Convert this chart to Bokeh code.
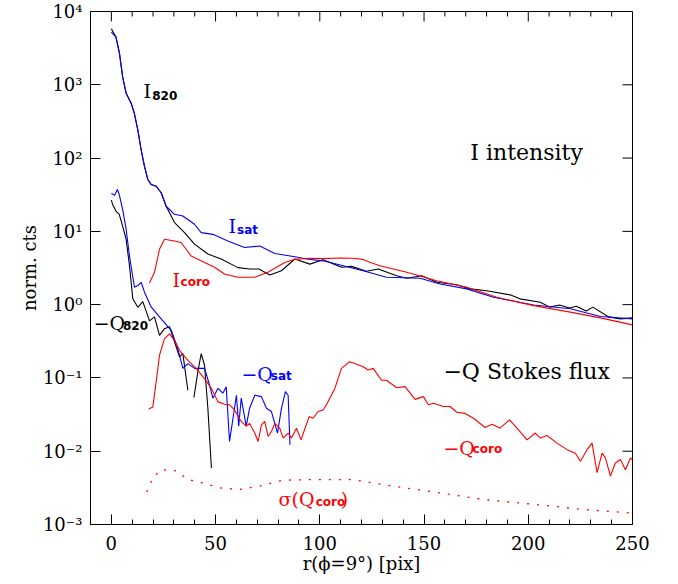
import math
from bokeh.plotting import figure
from bokeh.models import FixedTicker, CustomJSTickFormatter, Range1d
from bokeh.core.properties import value
from bokeh.embed import file_html
from bokeh.resources import INLINE

nan = float("nan")

# ---------------- data ----------------
x_I820 = [0, 2.2, 3.9, 5.4, 7.1, 9.5, 11, 12.7, 14.3, 15.9, 17.5, 19.1, 21.5, 23.9, 26.3,
          30.3, 35.1, 39.9, 46.3, 52.7, 60.7, 66.3, 70.8, 76, 81.6, 88, 95.2, 101.6, 110.4,
          115.2, 122.4, 128, 136.9, 141.7, 148.9, 156.1, 165.7, 172.1, 180.1, 191.3, 196,
          205.8, 210.3, 215, 219.8, 223, 227.8, 231, 238.6, 244.2, 250]
y_I820 = [5820, 4470, 2680, 1290, 765, 560, 410, 243, 129, 77, 51, 43.6, 41.3, 33.6, 22,
          13.2, 9.6, 6.7, 4.9, 4.2, 3.2, 3.06, 3.06, 2.54, 2.9, 4.2, 3.57, 4.1, 3.23,
          3.33, 2.85, 3.06, 2.48, 2.29, 2.48, 2.02, 1.87, 1.64, 1.55, 1.36, 1.2,
          1.08, 0.925, 0.99, 0.90, 0.95, 0.82, 0.925, 0.68, 0.64, 0.66]

x_Isat = [0, 2.2, 3.9, 5.4, 7.1, 9.5, 11, 12.7, 14.3, 15.9, 17.5, 19.1, 21.5, 23.9, 26.3,
          30.3, 34.3, 39.9, 43.1, 48.7, 55.9, 63.9, 71.2, 78.4, 88, 93.6, 101.6, 120.8,
          132, 148.1, 157.7, 170.5, 183.3, 202.6, 220.2, 234.6, 250]
y_Isat = [5250, 4470, 2680, 1290, 765, 560, 410, 243, 129, 77, 51, 43.6, 41.3, 33.6, 22,
          17.1, 16.2, 12.5, 9.6, 9.1, 7.4, 6.03, 6.3, 5.0, 4.5, 4.2, 3.96, 2.9,
          2.36, 2.29, 1.91, 1.64, 1.26, 0.99, 0.88, 0.69, 0.64]

x_Icoro = [18.3, 20.7, 23.1, 25.5, 30.3, 33.5, 38.3, 44.7, 49.5, 54.3, 60.7, 68.8, 75.1,
           83.2, 88, 95, 101, 110, 116, 120.5, 124, 128.8, 141.7, 156.1, 170.5, 184.9, 202.6,
           220.2, 234.6, 250]
y_Icoro = [1.98, 2.76, 5.7, 7.8, 7.4, 7.05, 4.6, 3.77, 3.23, 2.62, 2.36, 2.36, 2.76,
           3.77, 4.15, 4.3, 4.25, 4.33, 4.3, 4.15, 3.8, 3.39, 2.76, 2.12, 1.73, 1.26, 0.97,
           0.79, 0.66, 0.53]

x_Q820 = [0, 0.6, 2.2, 3.8, 5.4, 7.1, 8.7, 10.3, 12.7, 15.1, 18.3, 20.7, 23.1, 25.5, 27.9,
          31.1, 32.7, 34.3, 36.7, nan, 39.6, 41.5, 43.1, 44.7, 46.3, 48]
y_Q820 = [26.7, 23.3, 18.9, 17, 11.8, 7.8, 3.4, 1.2, 0.92, 1.1, 0.6, 0.68, 0.38, 0.47, 0.5,
          0.265, 0.194, 0.215, 0.068, nan, 0.054, 0.121, 0.215, 0.149, 0.0385, 0.0059]

x_Qsat = [0, 1.6, 2.9, 3.8, 5.4, 7.1, 8.7, 10.2, 11.1, 12.7, 14.3, 15.9, 19.1, 23.9, 27.1,
          28.7, 31.9, 34.3, 36.7, 39.9, 44.7, 47.1, 48.7, 51.1, 53.5, 55.1, 56.7, 60, 61.1,
          62.3, 64.7, 66.3, 68.8, 72, 74.4, 76.8, 79.7, 81.6, 83.5, 84.8, 85.7]
y_Qsat = [32.9, 31, 37.3, 31.8, 20, 10.7, 4.6, 2.48, 1.73, 1.82, 2.02, 1.48, 0.93, 0.64, 0.50,
          0.45, 0.25, 0.135, 0.157, 0.135, 0.135, 0.08, 0.053, 0.072, 0.062, 0.076, 0.0136,
          0.058, 0.022, 0.053, 0.022, 0.0385, 0.058, 0.0556, 0.0385, 0.0348, 0.0177, 0.0385,
          0.065, 0.058, 0.0122]

x_Qcoro = [17.9, 19.9, 21.5, 23.1, 25.5, 27.9, 30.3, 32.7, 36.7, 40.7, 44.7, 48, 51.1, 54.3,
           56.7, 59.1, 62.3, 64.7, 66.3, 68.8, 70.4, 72, 73.6, 75.2, 76.8, 78.4, 80.8, 82.4,
           84.8, 86.4, 88.8, 91, 92.5, 94.9, 96.8, 99.2, 101.6, 104, 107.2, 110.4, 114.1,
           116.8, 120.8, 123.2, 125.6, 129.6, 132, 136.9, 140.9, 145.7, 149.7, 152.1, 154.5,
           159.3, 162.5, 165.7, 169.7, 173.7, 179.3, 182.6, 186.5, 191, 194.6, 199.4, 203.4,
           205.8, 209, 213.8, 218.6, 222.6, 225, 228.2, 230.6, 233, 235.4, 237, 239.4, 241.8,
           244.2, 246.6, 249, 250]
y_Qcoro = [0.0377, 0.04, 0.089, 0.204, 0.343, 0.40, 0.326, 0.238, 0.174, 0.135, 0.098, 0.072,
           0.0475, 0.0437, 0.043, 0.0366, 0.0255, 0.022, 0.024, 0.0177, 0.0136, 0.0229, 0.0255,
           0.0159, 0.0186, 0.024, 0.0206, 0.0151, 0.0177, 0.0151, 0.0206, 0.0143, 0.019,
           0.0297, 0.0282, 0.0348, 0.0366, 0.0475, 0.072, 0.135, 0.166, 0.157, 0.142, 0.128,
           0.135, 0.093, 0.093, 0.0736, 0.076, 0.051, 0.0556, 0.043, 0.045, 0.0407, 0.0407,
           0.034, 0.0328, 0.0282, 0.0211, 0.0234, 0.0206, 0.0268, 0.0206, 0.0143, 0.0177,
           0.0151, 0.0164, 0.0129, 0.0105, 0.0094, 0.0073, 0.0105, 0.0129, 0.0051, 0.0094,
           0.0081, 0.0046, 0.0069, 0.0077, 0.0056, 0.0081, 0.0076]

x_sig = [17, 19.9, 23.9, 31.1, 36.7, 42.3, 51.9, 61.5, 71.2, 82.4, 98.4, 116, 130.4, 146.5,
         162.5, 178.5, 194.6, 210.6, 226.6, 240.2, 250]
y_sig = [0.00277, 0.00433, 0.0056, 0.0054, 0.0041, 0.0038, 0.00316, 0.0030, 0.00334, 0.00403,
         0.0041, 0.0041, 0.0035, 0.0030, 0.00257, 0.0022, 0.00198, 0.00179, 0.0016, 0.0015,
         0.00143]

x_major = [0, 50, 100, 150, 200, 250]
x_minor = [-10, 10, 20, 30, 40, 60, 70, 80, 90, 110, 120, 130, 140, 160, 170, 180, 190,
           210, 220, 230, 240]
y_ticks = [1e-3, 1e-2, 1e-1, 1e0, 1e1, 1e2, 1e3, 1e4]
X_MIN, X_MAX, Y_MIN, Y_MAX = -10, 250, 1e-3, 1e4

# ---------------- figure ----------------
SERIF = value("DejaVu Serif")
SANS = value("DejaVu Sans")
p = figure(width=670, height=576, x_range=Range1d(X_MIN, X_MAX), y_range=Range1d(Y_MIN, Y_MAX),
           y_axis_type="log", output_backend="svg", toolbar_location=None,
           min_border_left=90, min_border_right=38, min_border_top=11, min_border_bottom=49)
p.grid.visible = False
p.outline_line_color = "black"
p.outline_line_width = 1
p.background_fill_color = "white"
p.border_fill_color = "white"

fmt = CustomJSTickFormatter(code="""
const sup = {'-':'\u207b','0':'\u2070','1':'\u00b9','2':'\u00b2','3':'\u00b3','4':'\u2074',
             '5':'\u2075','6':'\u2076','7':'\u2077','8':'\u2078','9':'\u2079'};
const e = Math.round(Math.log10(tick));
return '10' + String(e).split('').map(c => sup[c]).join('');
""")

def style_axis(ax):
    ax.axis_line_color = "black"
    ax.major_tick_line_color = "black"
    ax.minor_tick_line_color = "black"
    ax.major_tick_in = 10
    ax.major_tick_out = 0
    ax.minor_tick_in = 5
    ax.minor_tick_out = 0
    ax.major_label_text_font = "DejaVu Serif"
    ax.major_label_text_font_size = "18px"
    ax.major_label_text_color = "black"
    ax.axis_label_text_font = "DejaVu Serif"
    ax.axis_label_text_font_size = "18px"
    ax.axis_label_text_font_style = "normal"
    ax.axis_label_text_color = "black"

xa = p.xaxis[0]
xa.ticker = FixedTicker(ticks=x_major, minor_ticks=x_minor)
style_axis(xa)
xa.major_label_standoff = 11
xa.axis_label = "r(\u03d5=9\u00b0) [pix]"
xa.axis_label_standoff = 0

ya = p.yaxis[0]
ya.ticker = FixedTicker(ticks=y_ticks, minor_ticks=[])
ya.formatter = fmt
style_axis(ya)
ya.major_label_standoff = 8
ya.axis_label = "norm. cts"
ya.axis_label_standoff = 0

# mirrored ticks on the top and right frame edges (screen-length rays from the tick values)
p.ray(x=x_major, y=[Y_MAX] * len(x_major), length=10, length_units="screen",
      angle=-math.pi / 2, line_color="black", line_width=1)
p.ray(x=x_minor, y=[Y_MAX] * len(x_minor), length=5, length_units="screen",
      angle=-math.pi / 2, line_color="black", line_width=1)
p.ray(x=[X_MAX] * len(y_ticks), y=y_ticks, length=10, length_units="screen",
      angle=math.pi, line_color="black", line_width=1)

# ---------------- curves ----------------
p.line(x_I820, y_I820, line_color="black", line_width=1.1)
p.line(x_Isat, y_Isat, line_color="blue", line_width=1.1)
p.line(x_Icoro, y_Icoro, line_color="red", line_width=1.1)
p.line(x_Q820, y_Q820, line_color="black", line_width=1.1)
p.line(x_Qsat, y_Qsat, line_color="blue", line_width=1.1)
p.line(x_Qcoro, y_Qcoro, line_color="red", line_width=1.1)
p.line(x_sig, y_sig, line_color="red", line_width=1.3, line_dash="2 8")

# ---------------- labels ----------------
def lab(x, y, t, color, size, sub=False):
    p.text(x=[x], y=[y], text=[t], text_color=color, text_font=SANS if sub else SERIF,
           text_font_size=size, text_font_style="bold" if sub else "normal",
           text_baseline="alphabetic", text_align="left")

MAIN, SUB = "19px", "12px"
lab(15.4, 821, "I", "black", MAIN)
lab(19.6, 725, "820", "black", SUB, True)
lab(56.2, 11.7, "I", "blue", MAIN)
lab(60.3, 10.35, "sat", "blue", SUB, True)
lab(29.3, 2.17, "I", "red", MAIN)
lab(33.2, 2.04, "coro", "red", SUB, True)
lab(172.2, 118.4, "I intensity", "black", "22px")
lab(159.3, 0.1226, "\u2212Q Stokes flux", "black", "22px")
lab(-8.5, 0.566, "\u2212Q", "black", MAIN)
lab(5.6, 0.515, "820", "black", SUB, True)
lab(62.4, 0.1116, "\u2212Q", "blue", MAIN)
lab(76.5, 0.1048, "sat", "blue", SUB, True)
lab(159.3, 0.0110, "\u2212Q", "red", MAIN)
lab(173.3, 0.0106, "coro", "red", SUB, True)
lab(80.2, 0.00224, "\u03c3(Q", "red", MAIN)
lab(98.0, 0.00204, "coro", "red", SUB, True)
lab(110.0, 0.00224, ")", "red", MAIN)

open("out.html", "w").write(file_html(p, INLINE))
